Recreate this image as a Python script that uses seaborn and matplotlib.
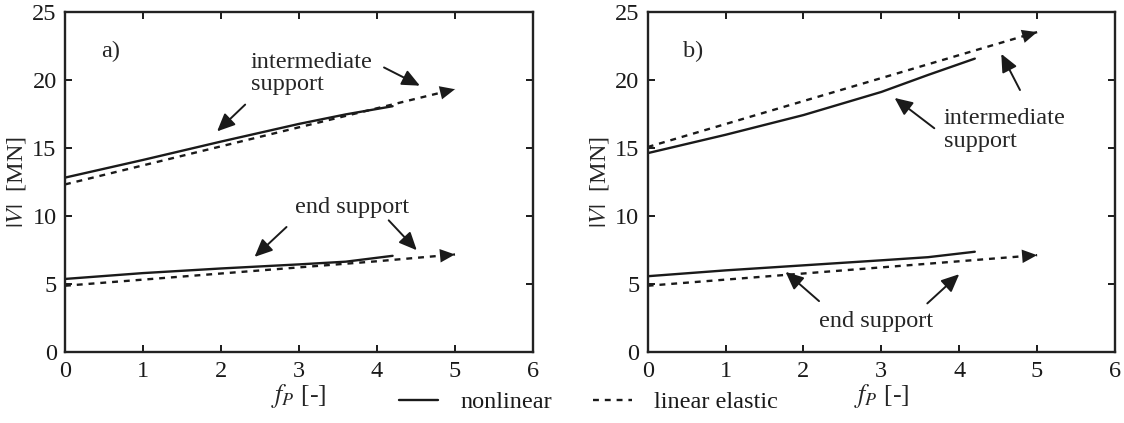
import numpy as np
import pandas as pd
import matplotlib
matplotlib.use("Agg")
import matplotlib.pyplot as plt
import seaborn as sns
from matplotlib.lines import Line2D

# ---------------- data ----------------
x_nonlinear = [0, 1, 2, 3, 3.6, 4.2]
x_linear = [0, 1, 2, 3, 4, 5]

a_intermediate_nonlinear = [12.8, 14.1, 15.45, 16.75, 17.45, 18.05]
a_intermediate_linear = [12.3, 13.7, 15.1, 16.5, 17.9, 19.3]
a_end_nonlinear = [5.35, 5.78, 6.12, 6.42, 6.62, 7.05]
a_end_linear = [4.85, 5.3, 5.75, 6.2, 6.65, 7.15]

b_intermediate_nonlinear = [14.6, 15.95, 17.4, 19.1, 20.35, 21.55]
b_intermediate_linear = [15.05, 16.74, 18.43, 20.12, 21.81, 23.5]
b_end_nonlinear = [5.55, 5.98, 6.35, 6.72, 6.95, 7.35]
b_end_linear = [4.85, 5.3, 5.75, 6.2, 6.65, 7.1]

models = ["nonlinear", "linear elastic"]
x_ticks = [0, 1, 2, 3, 4, 5, 6]
y_ticks = [0, 5, 10, 15, 20, 25]

# ---------------- style ----------------
sns.set_theme(style="ticks")
plt.rcParams["font.family"] = ["Liberation Serif", "DejaVu Serif"]
plt.rcParams["mathtext.fontset"] = "stix"
FS = 17.5
TS = 17.5

fig = plt.figure(figsize=(11.24, 4.23), dpi=100)
ax_a = fig.add_axes([65 / 1124, 1 - 351.7 / 423, 468 / 1124, 340 / 423])
ax_b = fig.add_axes([647.7 / 1124, 1 - 351.7 / 423, 467.3 / 1124, 340 / 423])


def build_df(int_nl, int_le, end_nl, end_le):
    rows = []
    for name, xs, ys, model in [
        ("int_nl", x_nonlinear, int_nl, models[0]),
        ("int_le", x_linear, int_le, models[1]),
        ("end_nl", x_nonlinear, end_nl, models[0]),
        ("end_le", x_linear, end_le, models[1]),
    ]:
        for xv, yv in zip(xs, ys):
            rows.append({"fP": xv, "V": yv, "curve": name, "model": model})
    return pd.DataFrame(rows)


HEAD = "-|>,head_length=0.6,head_width=0.27"


def head(ax, xs, ys):
    ax.annotate("", xy=(xs[-1], ys[-1]), xytext=(xs[-2], ys[-2]),
                arrowprops=dict(arrowstyle=HEAD, mutation_scale=18, color="k",
                                lw=0, shrinkA=0, shrinkB=0))


def arrow(ax, start, end):
    ax.annotate("", xy=end, xytext=start,
                arrowprops=dict(arrowstyle=HEAD, mutation_scale=18, color="k",
                                lw=1.4, shrinkA=0, shrinkB=0))


def draw(ax, int_nl, int_le, end_nl, end_le):
    df = build_df(int_nl, int_le, end_nl, end_le)
    sns.lineplot(data=df, x="fP", y="V", style="model", units="curve",
                 estimator=None, sort=False, color="k", lw=1.7,
                 dashes={models[0]: "", models[1]: (2.5, 2.5)},
                 legend=False, ax=ax)
    head(ax, x_linear, int_le)
    head(ax, x_linear, end_le)
    ax.set_xlim(0, 6)
    ax.set_ylim(0, 25)
    ax.set_xticks(x_ticks)
    ax.set_yticks(y_ticks)
    ax.tick_params(direction="in", length=5, width=1.4, labelsize=FS,
                   top=True, right=True, pad=6, color="k", labelcolor="k")
    ax.tick_params(axis="x", pad=6.5)
    for s in ax.spines.values():
        s.set_visible(True)
        s.set_linewidth(1.7)
        s.set_color("#222222")
    ax.set_xlabel(r"$f_P$ [-]", fontsize=FS + 1)
    ax.set_ylabel(r"$|V|$  [MN]", fontsize=FS)
    ax.xaxis.set_label_coords(0.5, -0.09)
    ax.yaxis.set_label_coords(-0.078, 0.5)


draw(ax_a, a_intermediate_nonlinear, a_intermediate_linear, a_end_nonlinear, a_end_linear)
draw(ax_b, b_intermediate_nonlinear, b_intermediate_linear, b_end_nonlinear, b_end_linear)

# panel a annotations
ax_a.text(0.58, 22.1, "a)", fontsize=TS, ha="center", va="center")
ax_a.text(2.38, 20.45, "intermediate\nsupport", fontsize=TS, ha="left",
          va="center", linespacing=1.08)
arrow(ax_a, (2.31, 18.17), (1.95, 16.2))
arrow(ax_a, (4.09, 20.9), (4.55, 19.56))
ax_a.text(2.95, 10.6, "end support", fontsize=TS, ha="left", va="center")
arrow(ax_a, (2.84, 9.17), (2.43, 6.97))
arrow(ax_a, (4.15, 9.66), (4.51, 7.46))

# panel b annotations
ax_b.text(0.58, 22.1, "b)", fontsize=TS, ha="center", va="center")
ax_b.text(3.80, 16.3, "intermediate\nsupport", fontsize=TS, ha="left",
          va="center", linespacing=1.08)
arrow(ax_b, (3.68, 16.43), (3.17, 18.66))
arrow(ax_b, (4.78, 19.24), (4.54, 21.9))
ax_b.text(2.2, 2.2, "end support", fontsize=TS, ha="left", va="center")
arrow(ax_b, (2.2, 3.72), (1.77, 5.87))
arrow(ax_b, (3.59, 3.55), (4.0, 5.7))

# legend
handles = [Line2D([], [], color="k", lw=1.7),
           Line2D([], [], color="k", lw=1.7, dashes=(2.5, 2.5))]
fig.legend(handles, models, loc="center", ncol=2,
           bbox_to_anchor=(588.5 / 1124, 1 - 402 / 423), frameon=False,
           fontsize=TS, handlelength=1.6, handletextpad=0.9,
           columnspacing=1.7, borderpad=0, labelcolor="k")

fig.savefig("out.png", dpi=100)
